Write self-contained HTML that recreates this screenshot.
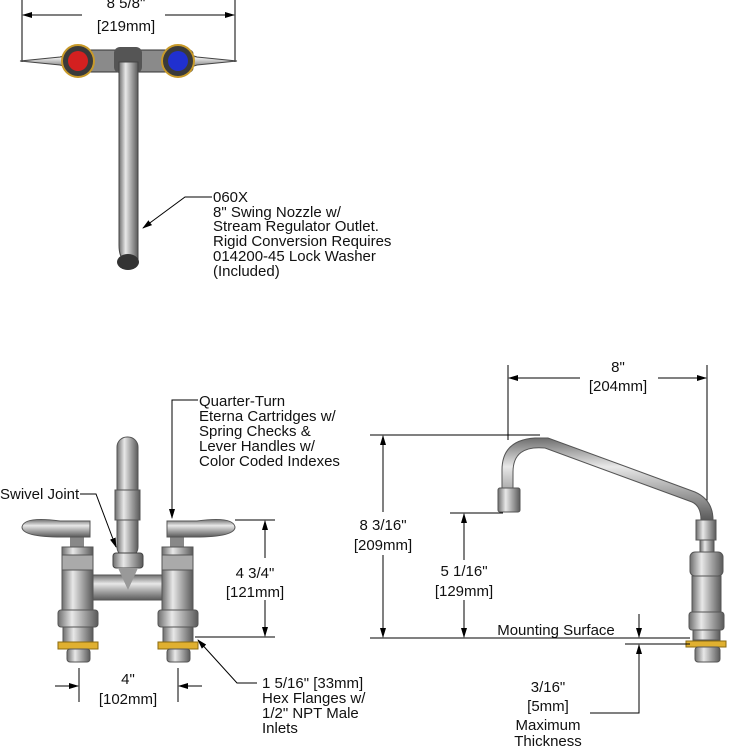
<!DOCTYPE html>
<html><head><meta charset="utf-8"><style>
html,body{margin:0;padding:0;background:#fff;}
svg{display:block;}
text{font-family:"Liberation Sans",Arial,sans-serif;font-size:15px;fill:#111;}
.c{text-anchor:middle;}
.l{stroke:#000;stroke-width:1;fill:none;}
</style></head><body>
<svg width="730" height="747" viewBox="0 0 730 747" xmlns="http://www.w3.org/2000/svg">
<defs>
<marker id="a" markerWidth="10" markerHeight="8" refX="9" refY="4" orient="auto" markerUnits="userSpaceOnUse"><path d="M0,1 L10,4 L0,7 z" fill="#000"/></marker>
<linearGradient id="m" x1="0" x2="1" y1="0" y2="0"><stop offset="0" stop-color="#6e6e6e"/><stop offset=".35" stop-color="#e8e8e8"/><stop offset=".6" stop-color="#b0b0b0"/><stop offset="1" stop-color="#5a5a5a"/></linearGradient>
<linearGradient id="mv" x1="0" x2="0" y1="0" y2="1"><stop offset="0" stop-color="#6e6e6e"/><stop offset=".35" stop-color="#e8e8e8"/><stop offset=".6" stop-color="#b0b0b0"/><stop offset="1" stop-color="#5a5a5a"/></linearGradient>
</defs>

<!-- TOP VIEW -->
<line class="l" x1="22" y1="0" x2="22" y2="62"/>
<line class="l" x1="235" y1="0" x2="235" y2="62"/>
<line class="l" x1="82" y1="15" x2="23" y2="15" marker-end="url(#a)"/>
<line class="l" x1="165" y1="15" x2="234" y2="15" marker-end="url(#a)"/>
<text class="c" x="126" y="8">8 5/8"</text>
<text class="c" x="126" y="31">[219mm]</text>
<rect x="68" y="50" width="125" height="22" rx="4" fill="#8a8a8a" stroke="#333"/>
<path d="M20,61 L60,57 L75,52 L75,70 L60,65 Z" fill="url(#mv)" stroke="#444"/>
<path d="M237,61 L197,57 L182,52 L182,70 L197,65 Z" fill="url(#mv)" stroke="#444"/>
<circle cx="78" cy="61" r="16" fill="#3a3a3a" stroke="#c89a2a" stroke-width="2"/>
<circle cx="78" cy="61" r="10" fill="#d42020"/>
<circle cx="178" cy="61" r="16" fill="#3a3a3a" stroke="#c89a2a" stroke-width="2"/>
<circle cx="178" cy="61" r="10" fill="#2030d0"/>
<rect x="114" y="47" width="28" height="26" rx="6" fill="#555"/>
<path d="M119,62 L119,245 Q119,262 130,262 L138,262 L138,62 Z" fill="url(#m)" stroke="#444"/>
<ellipse cx="128" cy="262" rx="11" ry="8" fill="#333"/>
<polyline class="l" points="212,197 185,197 143,228" marker-end="url(#a)"/>
<text x="213" y="202">060X</text>
<text x="213" y="217">8" Swing Nozzle w/</text>
<text x="213" y="231">Stream Regulator Outlet.</text>
<text x="213" y="246">Rigid Conversion Requires</text>
<text x="213" y="261">014200-45 Lock Washer</text>
<text x="213" y="276">(Included)</text>

<!-- FRONT VIEW -->
<rect x="117" y="437" width="21" height="120" rx="10" fill="url(#m)" stroke="#555"/>
<rect x="115" y="490" width="25" height="30" fill="url(#m)" stroke="#555"/>
<rect x="113" y="553" width="30" height="15" rx="3" fill="url(#m)" stroke="#444"/>
<rect x="89" y="575" width="76" height="25" fill="url(#mv)" stroke="#555"/>
<path d="M118,568 L138,568 L128,590 Z" fill="#999"/>
<g id="v">
<rect x="70" y="537" width="14" height="10" fill="#888"/>
<rect x="62" y="547" width="31" height="63" fill="url(#m)" stroke="#555"/>
<rect x="62" y="555" width="31" height="15" fill="#aaa" stroke="#555"/>
<rect x="58" y="610" width="40" height="17" rx="3" fill="url(#m)" stroke="#555"/>
<rect x="63" y="627" width="30" height="15" fill="url(#m)" stroke="#555"/>
<rect x="58" y="642" width="40" height="7" fill="#e0b030" stroke="#8a6a10"/>
<rect x="67" y="649" width="23" height="13" rx="3" fill="url(#m)" stroke="#555"/>
</g>
<use href="#v" transform="translate(100,0)"/>
<path d="M22,527 Q24,516 60,521 L90,521 L90,537 L62,537 Q22,537 22,527 Z" fill="url(#mv)" stroke="#555"/>
<path d="M235,527 Q233,516 197,521 L167,521 L167,537 L195,537 Q235,537 235,527 Z" fill="url(#mv)" stroke="#555"/>
<polyline class="l" points="198,400 172,400 172,518" marker-end="url(#a)"/>
<text x="199" y="406">Quarter-Turn</text>
<text x="199" y="421">Eterna Cartridges w/</text>
<text x="199" y="436">Spring Checks &amp;</text>
<text x="199" y="451">Lever Handles w/</text>
<text x="199" y="466">Color Coded Indexes</text>
<text x="0" y="499">Swivel Joint</text>
<polyline class="l" points="80,494 96,494 116,547" marker-end="url(#a)"/>
<line class="l" x1="235" y1="520" x2="275" y2="520"/>
<line class="l" x1="195" y1="637" x2="275" y2="637"/>
<line class="l" x1="265" y1="558" x2="265" y2="521" marker-end="url(#a)"/>
<line class="l" x1="265" y1="600" x2="265" y2="636" marker-end="url(#a)"/>
<text class="c" x="255" y="578">4 3/4"</text>
<text class="c" x="255" y="597">[121mm]</text>
<line class="l" x1="79" y1="668" x2="79" y2="702"/>
<line class="l" x1="178" y1="668" x2="178" y2="702"/>
<line class="l" x1="55" y1="686" x2="78" y2="686" marker-end="url(#a)"/>
<line class="l" x1="202" y1="686" x2="179" y2="686" marker-end="url(#a)"/>
<text class="c" x="128" y="684">4"</text>
<text class="c" x="128" y="704">[102mm]</text>
<polyline class="l" points="257,683 237,683 198,640" marker-end="url(#a)"/>
<text x="262" y="688">1 5/16" [33mm]</text>
<text x="262" y="703">Hex Flanges w/</text>
<text x="262" y="718">1/2" NPT Male</text>
<text x="262" y="733">Inlets</text>

<!-- SIDE VIEW -->
<line class="l" x1="508" y1="365" x2="508" y2="440"/>
<line class="l" x1="707" y1="365" x2="707" y2="520"/>
<line class="l" x1="580" y1="378" x2="509" y2="378" marker-end="url(#a)"/>
<line class="l" x1="658" y1="378" x2="706" y2="378" marker-end="url(#a)"/>
<text class="c" x="618" y="372">8"</text>
<text class="c" x="618" y="391">[204mm]</text>
<path d="M502,490 L502,470 Q502,440 535,438 L548,438 L695,492 Q713,500 713,520 L701,520 Q701,506 692,502 L545,448 Q513,445 513,472 L513,490 Z" fill="url(#mv)" stroke="#555"/>
<rect x="498" y="488" width="22" height="24" rx="2" fill="url(#m)" stroke="#555"/>
<rect x="696" y="520" width="20" height="20" fill="url(#m)" stroke="#555"/>
<rect x="700" y="540" width="14" height="12" fill="url(#m)" stroke="#555"/>
<rect x="690" y="552" width="33" height="24" rx="5" fill="url(#m)" stroke="#555"/>
<rect x="692" y="576" width="29" height="36" fill="url(#m)" stroke="#555"/>
<rect x="689" y="612" width="35" height="18" rx="3" fill="url(#m)" stroke="#555"/>
<rect x="693" y="630" width="27" height="10" fill="url(#m)" stroke="#555"/>
<rect x="686" y="641" width="40" height="6" fill="#e0b030" stroke="#8a6a10"/>
<rect x="695" y="647" width="25" height="15" rx="3" fill="url(#m)" stroke="#555"/>
<line class="l" x1="370" y1="435" x2="540" y2="435"/>
<line class="l" x1="370" y1="638" x2="690" y2="638"/>
<line class="l" x1="383" y1="512" x2="383" y2="436" marker-end="url(#a)"/>
<line class="l" x1="383" y1="555" x2="383" y2="637" marker-end="url(#a)"/>
<text class="c" x="383" y="530">8 3/16"</text>
<text class="c" x="383" y="550">[209mm]</text>
<line class="l" x1="450" y1="513" x2="503" y2="513"/>
<line class="l" x1="464" y1="560" x2="464" y2="514" marker-end="url(#a)"/>
<line class="l" x1="464" y1="600" x2="464" y2="637" marker-end="url(#a)"/>
<text class="c" x="464" y="576">5 1/16"</text>
<text class="c" x="464" y="596">[129mm]</text>
<text class="c" x="556" y="635">Mounting Surface</text>
<line class="l" x1="625" y1="644" x2="690" y2="644"/>
<line class="l" x1="639" y1="614" x2="639" y2="637" marker-end="url(#a)"/>
<polyline class="l" points="590,713 639,713 639,645" marker-end="url(#a)"/>
<text class="c" x="548" y="692">3/16"</text>
<text class="c" x="548" y="711">[5mm]</text>
<text class="c" x="548" y="730">Maximum</text>
<text class="c" x="548" y="746">Thickness</text>
</svg>
</body></html>
